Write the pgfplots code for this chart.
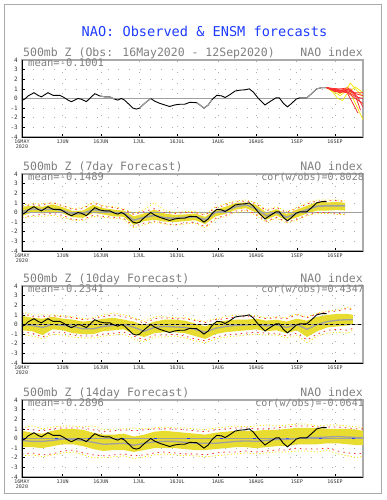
\documentclass[border=0pt]{standalone}
\usepackage{fontspec}
\setmainfont{DejaVu Sans Mono}
\usepackage{pgfplots}
\pgfplotsset{compat=1.18}
\usepackage{pgfplotstable}
\usepgfplotslibrary{fillbetween}
\definecolor{bandy}{RGB}{232,220,48}
\definecolor{mgray}{RGB}{160,160,160}
\definecolor{ered}{RGB}{250,50,50}
\definecolor{eyel}{RGB}{245,230,0}
\definecolor{tblue}{RGB}{30,60,255}
\definecolor{tgray}{RGB}{128,128,128}
\definecolor{fgray}{RGB}{170,170,170}
\definecolor{zblue}{RGB}{30,60,255}

\pgfplotstableread{
d v
0 -0.2
1.05 -0.07
2.4 0.27
4.7 0.6
6.3 0.33
7.6 0.17
10.2 0.6
12.2 0.33
14.8 0.33
16.1 0.17
18.1 -0.17
19.4 -0.33
20.7 -0.17
22 0
23.3 -0.07
25.3 -0.33
26.6 0
28.6 0.5
30.5 0.27
32.5 0.17
34.5 0.17
36.4 -0.07
37.7 -0.17
39 0
40.3 -0.17
42.3 -0.67
43.6 -1.0
44.9 -1.1
46.2 -1.0
48.2 -0.5
50.6 0
52.1 -0.27
54.1 -0.5
56.1 -0.67
58 -0.83
60 -0.67
62 -0.6
63.9 -0.6
65.9 -0.4
68.6 -0.43
69.9 -0.67
71.5 -1.0
73.2 -0.67
74.5 -0.17
76.5 0.33
78.5 0.27
79.8 0.1
81.7 0.4
83.7 0.77
85.7 0.87
87.6 0.9
89.3 1.0
90.9 0.67
92.9 0
94.2 -0.33
95.5 -0.67
97.4 -0.33
99.8 0.07
101.1 0.07
102.7 -0.5
104.3 -0.87
106 -0.5
107.7 -0.07
109.2 0.07
111.9 0.07
113.8 0.5
115.8 1.0
117.8 1.13
119.7 1.13
}\obs

\pgfplotstableread{
d mean lo hi rlo rhi ylo yhi
0 0.1 -0.35 0.6 -0.5 0.7 -0.6 0.8
4 0.35 0.0 0.7 -0.3 0.8 -0.4 0.9
8 0.3 -0.1 0.6 -0.2 0.75 -0.4 0.9
12 0.35 0.05 0.85 -0.1 1.05 -0.3 1.0
16 0.2 -0.1 0.55 -0.3 0.7 -0.5 0.7
20 -0.15 -0.5 0.15 -0.75 0.3 -0.8 0.4
24 -0.1 -0.55 0.2 -0.7 0.4 -0.8 0.5
28 0.3 -0.05 0.8 -0.3 1.0 -0.4 1.1
32 0.15 -0.2 0.45 -0.4 0.6 -0.5 0.7
36 0.0 -0.4 0.3 -0.5 0.5 -0.6 0.6
40 -0.1 -0.45 0.2 -0.6 0.3 -0.7 0.4
44 -0.8 -1.3 -0.4 -1.45 -0.2 -1.6 -0.1
48 -0.5 -0.9 -0.1 -1.1 0.1 -1.25 0.3
52 -0.3 -0.75 0.3 -0.9 0.4 -1.0 1.0
56 -0.55 -0.95 -0.1 -1.1 0.0 -1.2 0.2
60 -0.6 -1.0 -0.25 -1.3 -0.1 -1.3 0.0
64 -0.5 -0.9 -0.2 -1.1 0.0 -1.2 0.1
68 -0.45 -0.8 -0.1 -1.0 0.0 -1.1 0.1
72 -0.75 -1.2 -0.45 -1.5 -0.3 -1.6 -0.2
76 0.0 -0.4 0.3 -0.6 0.5 -0.7 0.6
80 0.2 -0.15 0.6 -0.3 0.75 -0.4 0.9
84 0.6 0.3 1.0 0.15 1.1 0.0 1.2
88 0.8 0.45 1.05 0.3 1.2 0.2 1.3
92 0.4 0.0 0.8 -0.2 0.9 -0.3 1.0
96 -0.35 -0.75 0.0 -0.9 0.2 -1.0 0.3
100 0.0 -0.3 0.35 -0.5 0.5 -0.6 0.6
104 -0.5 -0.85 -0.15 -1.0 0.0 -1.1 0.1
108 -0.1 -0.5 0.3 -0.7 0.4 -0.8 0.5
112 0.3 -0.1 0.7 -0.25 0.9 -0.3 1.0
116 0.65 0.2 1.1 0.0 1.2 -0.1 1.3
120 0.7 0.2 1.05 0.0 1.2 -0.1 1.3
124 0.7 0.25 1.1 -0.1 1.25 -0.2 1.3
127 0.7 0.2 1.0 -0.15 1.1 -0.2 1.2
}\ptwo

\pgfplotstableread{
d mean lo hi rlo rhi ylo yhi
0 0.0 -0.6 0.9 -0.8 1.2 -1.0 1.3
4 -0.1 -0.7 0.7 -0.9 0.8 -1.2 1.0
8 -0.3 -1.1 0.6 -1.3 0.8 -1.5 1.0
12 0.0 -0.5 0.8 -0.8 0.9 -1.0 1.0
16 -0.1 -0.6 0.6 -0.8 0.8 -1.1 0.9
20 -0.2 -0.9 0.5 -1.1 0.7 -1.3 0.8
24 -0.45 -1.0 0.3 -1.2 0.5 -1.4 0.6
28 -0.45 -1.0 0.4 -1.2 0.6 -1.4 0.7
32 -0.2 -0.7 0.6 -1.0 0.8 -1.2 1.0
36 -0.1 -0.6 0.7 -0.9 1.0 -1.1 1.2
40 0.0 -0.5 0.5 -0.8 0.8 -1.0 1.0
44 -0.3 -1.0 0.3 -1.2 0.6 -1.5 0.7
48 -0.7 -1.3 -0.1 -1.6 0.1 -1.8 0.3
52 -0.3 -0.9 0.3 -1.1 0.6 -1.3 0.8
56 -0.2 -0.8 0.5 -1.1 0.7 -1.3 0.8
60 -0.25 -0.8 0.5 -1.0 0.6 -1.2 0.7
64 -0.3 -0.9 0.4 -1.2 0.6 -1.4 0.7
68 -0.5 -1.2 0.1 -1.5 0.4 -1.7 0.5
72 -0.8 -1.5 -0.2 -1.7 0.2 -1.9 0.3
76 -0.4 -1.0 0.2 -1.3 0.5 -1.5 0.6
80 -0.2 -0.8 0.4 -1.1 0.6 -1.3 0.8
84 -0.1 -0.7 0.5 -1.0 0.8 -1.2 1.0
88 -0.05 -0.6 0.5 -0.9 0.8 -1.1 1.0
92 0.0 -0.5 0.6 -0.8 0.8 -1.0 0.9
96 -0.15 -0.7 0.4 -0.9 0.6 -1.1 0.7
100 -0.05 -0.6 0.5 -0.9 0.7 -1.1 0.8
104 -0.3 -0.9 0.3 -1.2 0.6 -1.4 0.7
108 0.0 -0.6 0.6 -0.9 1.0 -1.1 1.1
112 -0.5 -1.3 0.4 -1.6 0.7 -1.9 0.8
116 0.0 -0.7 0.8 -1.0 1.1 -1.2 1.2
120 0.3 -0.3 1.0 -0.6 1.3 -0.9 1.4
124 0.45 -0.2 1.1 -0.5 1.4 -0.8 1.5
128 0.5 -0.1 1.1 -0.6 1.7 -0.9 1.8
130 0.5 0.0 1.0 -0.4 1.5 -0.6 1.6
}\pthree

\pgfplotstableread{
d mean lo hi rlo rhi ylo yhi
0 -0.2 -0.9 0.8 -1.6 1.0 -1.8 1.1
4 -0.3 -0.9 0.6 -1.5 0.9 -1.7 1.3
8 -0.3 -1.0 0.5 -1.7 0.8 -1.9 1.0
12 -0.2 -0.8 0.8 -1.6 1.0 -1.7 1.2
16 -0.05 -0.6 1.0 -1.3 1.1 -1.5 1.3
20 -0.1 -0.6 1.0 -1.2 1.1 -1.4 1.3
24 -0.2 -0.8 0.9 -1.5 1.1 -1.7 1.2
28 -0.4 -1.1 0.6 -1.7 0.9 -2.0 1.3
32 -0.6 -1.3 0.4 -1.8 0.7 -2.0 0.9
36 -0.55 -1.2 0.4 -1.7 0.8 -1.9 1.0
40 -0.5 -1.2 0.5 -1.6 0.9 -1.8 1.0
44 -0.7 -1.4 0.2 -1.8 0.8 -2.1 1.1
48 -0.5 -1.2 0.4 -1.7 0.9 -1.9 1.0
52 -0.35 -1.0 0.7 -1.5 1.0 -1.7 1.1
56 -0.3 -1.0 0.8 -1.4 1.0 -1.6 1.2
60 -0.3 -1.0 0.7 -1.5 1.0 -1.7 1.1
64 -0.4 -1.1 0.6 -1.6 0.9 -1.8 1.1
68 -0.5 -1.2 0.5 -1.6 0.8 -1.8 1.0
72 -0.5 -1.2 0.4 -1.7 0.7 -1.9 0.9
76 -0.5 -1.1 0.6 -1.5 0.9 -1.8 1.1
80 -0.4 -1.0 0.7 -1.4 1.0 -1.7 1.2
84 -0.3 -0.9 0.8 -1.4 1.1 -1.6 1.3
88 -0.25 -0.9 0.8 -1.3 1.1 -1.5 1.2
92 -0.3 -1.0 0.8 -1.4 1.0 -1.6 1.3
96 -0.2 -0.9 0.9 -1.3 1.0 -1.5 1.4
100 -0.1 -0.8 0.9 -1.2 1.1 -1.4 1.3
104 -0.1 -0.8 1.0 -1.2 1.2 -1.4 1.4
108 0.0 -0.6 1.1 -1.0 1.3 -1.3 1.5
112 0.1 -0.6 1.1 -1.1 1.3 -1.3 1.5
116 0.1 -0.6 1.1 -1.1 1.2 -1.4 1.3
120 0.15 -0.5 1.0 -1.0 1.2 -1.2 1.4
124 0.2 -0.5 1.0 -1.3 1.2 -1.6 1.4
128 0.15 -0.6 1.0 -1.5 1.1 -1.8 1.3
132 0.1 -0.7 0.9 -1.6 1.0 -2.0 1.2
134 0.1 -0.7 0.8 -1.5 1.0 -1.8 1.1
}\pfour

\pgfplotsset{
  nao/.style={
    scale only axis, width=341pt, height=77pt,
    xmin=0, xmax=134, ymin=-4, ymax=4,
    anchor=south west,
    axis line style={draw=fgray, line width=1.3pt},
    xtick={0,16,31,46,61,77,92,108,123},
    xticklabels={{16MAY\\2020},1JUN,16JUN,1JUL,16JUL,1AUG,16AUG,1SEP,16SEP},
    xticklabel style={font=\fontsize{5}{5.5}\selectfont, align=center, text=black!80, inner sep=1pt, yshift=-1.5pt},
    ytick={-4,-3,-2,-1,0,1,2,3,4},
    yticklabels={-4,-3,-2,-1,0,1,2,3,4},
    yticklabel style={font=\fontsize{6}{6}\selectfont, text=black!80, inner sep=1pt, xshift=-3pt},
    tick align=inside, major tick length=2.5pt,
    tick style={black, line width=0.5pt},
    xtick pos=left, ytick pos=left,
    grid=major,
    major grid style={draw=gray!65, line width=0.7pt, dash pattern=on 0.7pt off 10pt},
  },
  bandedge/.style={draw=none, forget plot},
  redx/.style={ered, line width=0.8pt, dash pattern=on 1.5pt off 4pt},
  yelx/.style={eyel, line width=0.7pt, dash pattern=on 1.2pt off 2pt},
}
\newcommand{\subt}{\fontsize{11.5}{12}\selectfont}
\newcommand{\meanf}{\fontsize{10.5}{11}\selectfont}
\newcommand{\corf}{\fontsize{10}{11}\selectfont}

\begin{document}
\begin{tikzpicture}
\path (0,0) rectangle (386pt,500pt);
\draw[fgray, line width=0.8pt] (4pt,7pt) rectangle (381pt,496pt);

% ---------- Panel 1 ----------
\begin{axis}[nao, name=p1, at={(22pt,363pt)}]
\addplot[mgray, line width=0.8pt] coordinates {(0,0) (134,0)};
\addplot[black, line width=0.9pt] table[x=d,y=v]{\obs};
\addplot[mgray, line width=1pt, restrict x to domain=30:37] table[x=d,y=v]{\obs};
\addplot[mgray, line width=1pt, restrict x to domain=46:51] table[x=d,y=v]{\obs};
\addplot[mgray, line width=1pt, restrict x to domain=66:75] table[x=d,y=v]{\obs};
\addplot[mgray, line width=1pt, restrict x to domain=109:120] table[x=d,y=v]{\obs};
\addplot[eyel, line width=0.7pt] coordinates {(119.7,1.13) (122,0.8) (125,0.3) (127,0.7) (129,1.6) (131,1.0) (134,0.2)};
\addplot[eyel, line width=0.7pt] coordinates {(119.7,1.13) (122,1.0) (125,0.5) (128,1.2) (131,-0.5) (134,-2.2)};
\addplot[eyel, line width=0.7pt] coordinates {(119.7,1.13) (122,0.7) (124,0.0) (126,-0.2) (128,0.6) (131,1.2) (134,0.6)};
\addplot[ered, line width=0.8pt] coordinates {(119.7,1.13) (122,1.0) (125,0.9) (128,0.8) (131,0.5) (134,0.3)};
\addplot[ered, line width=0.8pt] coordinates {(119.7,1.13) (122,0.9) (125,0.7) (128,0.6) (131,0.0) (134,-0.5)};
\addplot[ered, line width=0.8pt] coordinates {(119.7,1.13) (122,1.05) (125,1.0) (128,1.1) (131,0.3) (133,-1.2)};
\addplot[ered, line width=0.8pt] coordinates {(119.7,1.13) (122,0.85) (125,0.6) (128,0.9) (131,0.6) (134,0.6)};
\addplot[ered, line width=0.8pt] coordinates {(119.7,1.13) (122,0.95) (125,0.8) (127,1.0) (130,-0.5) (132,-1.5)};
\addplot[ered, line width=0.8pt] coordinates {(119.7,1.13) (122,1.0) (125,0.75) (128,0.7) (131,0.2) (134,0.0)};
\addplot[ered, line width=0.8pt] coordinates {(119.7,1.13) (123,0.7) (126,0.85) (129,1.0) (132,0.1) (134,-0.9)};
\end{axis}

% ---------- Panel 2 ----------
\begin{axis}[nao, name=p2, at={(22pt,249pt)}]
\addplot[mgray, line width=0.8pt] coordinates {(0,0) (134,0)};
\addplot[bandedge, name path=A2] table[x=d,y=hi]{\ptwo};
\addplot[bandedge, name path=B2] table[x=d,y=lo]{\ptwo};
\addplot[bandy, draw=none] fill between[of=A2 and B2];
\addplot[yelx] table[x=d,y=yhi]{\ptwo};
\addplot[yelx] table[x=d,y=ylo]{\ptwo};
\addplot[redx] table[x=d,y=rhi]{\ptwo};
\addplot[redx] table[x=d,y=rlo]{\ptwo};
\addplot[mgray, line width=1.6pt] table[x=d,y=mean]{\ptwo};
\addplot[black, line width=0.9pt] table[x=d,y=v]{\obs};
\end{axis}

% ---------- Panel 3 ----------
\begin{axis}[nao, name=p3, at={(22pt,137pt)}]
\addplot[mgray, line width=0.8pt] coordinates {(0,0) (134,0)};
\addplot[bandedge, name path=A3] table[x=d,y=hi]{\pthree};
\addplot[bandedge, name path=B3] table[x=d,y=lo]{\pthree};
\addplot[bandy, draw=none] fill between[of=A3 and B3];
\addplot[yelx] table[x=d,y=yhi]{\pthree};
\addplot[yelx] table[x=d,y=ylo]{\pthree};
\addplot[redx] table[x=d,y=rhi]{\pthree};
\addplot[redx] table[x=d,y=rlo]{\pthree};
\addplot[mgray, line width=1.3pt] table[x=d,y=mean]{\pthree};
\addplot[black, line width=0.9pt, dash pattern=on 3pt off 2.5pt] coordinates {(0,0) (134,0)};
\addplot[black, line width=0.9pt] table[x=d,y=v]{\obs};
\end{axis}

% ---------- Panel 4 ----------
\begin{axis}[nao, name=p4, at={(22pt,23pt)}]
\addplot[mgray, line width=0.8pt] coordinates {(0,0) (134,0)};
\addplot[bandedge, name path=A4] table[x=d,y=hi]{\pfour};
\addplot[bandedge, name path=B4] table[x=d,y=lo]{\pfour};
\addplot[bandy, draw=none] fill between[of=A4 and B4];
\addplot[yelx] table[x=d,y=yhi]{\pfour};
\addplot[yelx] table[x=d,y=ylo]{\pfour};
\addplot[redx] table[x=d,y=rhi]{\pfour};
\addplot[redx] table[x=d,y=rlo]{\pfour};
\addplot[mgray, line width=1.3pt, dash pattern=on 3pt off 2.5pt] coordinates {(0,0) (134,0)};
\addplot[zblue, line width=0.9pt, dash pattern=on 3pt off 30pt] coordinates {(0,0) (134,0)};
\addplot[mgray, line width=1.3pt] table[x=d,y=mean]{\pfour};
\addplot[black, line width=0.9pt] table[x=d,y=v]{\obs};
\end{axis}

% ---------- axis left/bottom black lines ----------
\foreach \p in {p1,p2,p3,p4}{
  \draw[black, line width=0.6pt] (\p.north west) -- (\p.south west) -- (\p.south east);
}

% ---------- texts ----------
\node[anchor=base, text=tblue, inner sep=0pt, font=\fontsize{13.6}{14}\selectfont] at (204.5pt,463pt) {NAO: Observed \& ENSM forecasts};

\node[anchor=base west, text=tgray, inner sep=0pt, font=\subt] at ([xshift=1pt,yshift=3pt]p1.north west) {500mb Z (Obs: 16May2020 - 12Sep2020)};
\node[anchor=base east, text=tgray, inner sep=0pt, font=\subt] at ([yshift=3pt]p1.north east) {NAO index};
\node[anchor=base west, text=tgray, inner sep=0pt, font=\meanf] at ([xshift=6pt,yshift=-7pt]p1.north west) {mean=-0.1001};

\node[anchor=base west, text=tgray, inner sep=0pt, font=\subt] at ([xshift=1pt,yshift=3pt]p2.north west) {500mb Z (7day Forecast)};
\node[anchor=base east, text=tgray, inner sep=0pt, font=\subt] at ([yshift=3pt]p2.north east) {NAO index};
\node[anchor=base west, text=tgray, inner sep=0pt, font=\meanf] at ([xshift=6pt,yshift=-7pt]p2.north west) {mean=-0.1489};
\node[anchor=base east, text=tgray, inner sep=0pt, font=\corf] at ([xshift=1pt,yshift=-7pt]p2.north east) {cor(w/obs)=0.8028};

\node[anchor=base west, text=tgray, inner sep=0pt, font=\subt] at ([xshift=1pt,yshift=3pt]p3.north west) {500mb Z (10day Forecast)};
\node[anchor=base east, text=tgray, inner sep=0pt, font=\subt] at ([yshift=3pt]p3.north east) {NAO index};
\node[anchor=base west, text=tgray, inner sep=0pt, font=\meanf] at ([xshift=6pt,yshift=-7pt]p3.north west) {mean=-0.2341};
\node[anchor=base east, text=tgray, inner sep=0pt, font=\corf] at ([xshift=1pt,yshift=-7pt]p3.north east) {cor(w/obs)=0.4347};

\node[anchor=base west, text=tgray, inner sep=0pt, font=\subt] at ([xshift=1pt,yshift=3pt]p4.north west) {500mb Z (14day Forecast)};
\node[anchor=base east, text=tgray, inner sep=0pt, font=\subt] at ([yshift=3pt]p4.north east) {NAO index};
\node[anchor=base west, text=tgray, inner sep=0pt, font=\meanf] at ([xshift=6pt,yshift=-7pt]p4.north west) {mean=-0.2896};
\node[anchor=base east, text=tgray, inner sep=0pt, font=\corf] at ([xshift=1pt,yshift=-7pt]p4.north east) {cor(w/obs)=-0.0641};
\end{tikzpicture}
\end{document}
